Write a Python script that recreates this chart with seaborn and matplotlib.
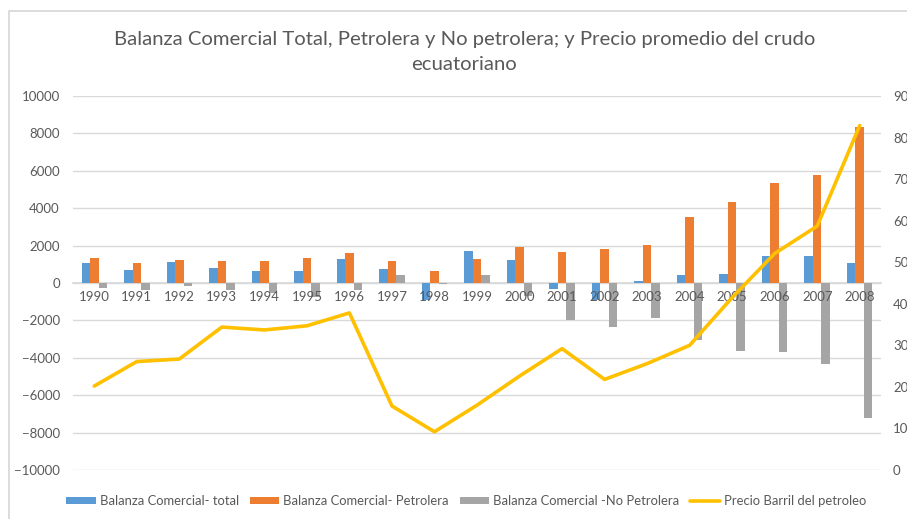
import matplotlib
matplotlib.use("Agg")
import matplotlib.pyplot as plt
import seaborn as sns
import pandas as pd
from matplotlib.patches import Patch
from matplotlib.lines import Line2D

years = [str(y) for y in range(1990, 2009)]
total = [1070, 710, 1120, 820, 660, 620, 1280, 750, -890, 1730,
         1230, -300, -890, 110, 430, 500, 1440, 1440, 1070]
petrolera = [1320, 1070, 1230, 1190, 1190, 1320, 1600, 1160, 660, 1280,
             1940, 1660, 1800, 2010, 3530, 4330, 5350, 5760, 8360]
no_petrolera = [-270, -360, -140, -390, -550, -730, -360, 430, -70, 430,
                -710, -1980, -2370, -1890, -3070, -3640, -3710, -4330, -7200]
precio = [20.2, 26.1, 26.7, 34.4, 33.7, 34.7, 37.8, 15.4, 9.2, 15.6,
          22.6, 29.2, 21.8, 25.6, 30.0, 41.5, 52.1, 58.7, 82.9]

series_names = ["Balanza Comercial- total", "Balanza Comercial- Petrolera",
                "Balanza Comercial -No Petrolera"]
line_name = "Precio Barril del petroleo"
colors = ["#5B9BD5", "#ED7D31", "#A5A5A5"]
line_color = "#FFC000"
text_color = "#595959"

df = pd.DataFrame({
    "year": years * 3,
    "value": total + petrolera + no_petrolera,
    "series": [series_names[0]] * 19 + [series_names[1]] * 19 + [series_names[2]] * 19,
})
df_line = pd.DataFrame({"x": list(range(len(years))), "precio": precio})

sns.set_theme(style="white")
plt.rcParams["font.family"] = ["Lato", "DejaVu Sans"]

W, H = 907, 519
fig = plt.figure(figsize=(W / 100, H / 100), dpi=100)

# light chart-area frame (top and left edges visible in the reference)
fig.add_artist(Line2D([8.5 / W, 8.5 / W, 1.0], [0.0, 1 - 10.5 / H, 1 - 10.5 / H],
                      transform=fig.transFigure, color="#D9D9D9", linewidth=1.3))

ax = fig.add_axes([73 / W, 1 - 470 / H, (881 - 73) / W, (470 - 96) / H])

sns.barplot(data=df, x="year", y="value", hue="series", palette=colors,
            width=0.6, gap=0, ax=ax, legend=False, saturation=1, linewidth=0)
ax.set_xlim(-0.5, len(years) - 0.5)
ax.set_ylim(-10000, 10000)
ax.set_yticks(range(-10000, 10001, 2000))
ax.yaxis.grid(True, color="#D9D9D9", linewidth=1)
ax.set_axisbelow(False)
ax.yaxis.set_zorder(0.5)
ax.xaxis.set_zorder(3)
ax.set_xlabel("")
ax.set_ylabel("")
for s in ["top", "right", "left"]:
    ax.spines[s].set_visible(False)
ax.spines["bottom"].set_position(("data", 0))
ax.spines["bottom"].set_color("#D9D9D9")
ax.spines["bottom"].set_zorder(0.5)
ax.tick_params(axis="x", length=0, pad=6, labelsize=9.5, colors=text_color)
ax.tick_params(axis="y", length=0, pad=9.5, labelsize=9.5, colors=text_color)

ax2 = ax.twinx()
sns.lineplot(data=df_line, x="x", y="precio", color=line_color, linewidth=2.6, ax=ax2)
ax2.set_ylim(0, 90)
ax2.set_yticks(range(0, 91, 10))
ax2.set_xlim(-0.5, len(years) - 0.5)
ax2.set_ylabel("")
ax2.set_xlabel("")
for s in ["top", "right", "left", "bottom"]:
    ax2.spines[s].set_visible(False)
ax2.tick_params(axis="y", length=0, pad=8.6, labelsize=9.5, colors=text_color)
ax2.grid(False)

fig.text(0.512, 1 - 52 / H, "Balanza Comercial Total, Petrolera y No petrolera; y Precio promedio del crudo\necuatoriano",
         ha="center", va="center", fontsize=14.6, color=text_color, linespacing=1.55)

handles = [Patch(facecolor=c, edgecolor="none") for c in colors]
handles.append(Line2D([0], [0], color=line_color, linewidth=2.6))
fig.legend(handles, series_names + [line_name], loc="center", ncol=4,
           bbox_to_anchor=(466 / W, 1 - 501 / H), frameon=False, fontsize=9.4,
           handlelength=2.27, handleheight=0.5, handletextpad=0.3, columnspacing=0.83,
           labelcolor=text_color, borderpad=0)

fig.savefig("out.png", dpi=100)
